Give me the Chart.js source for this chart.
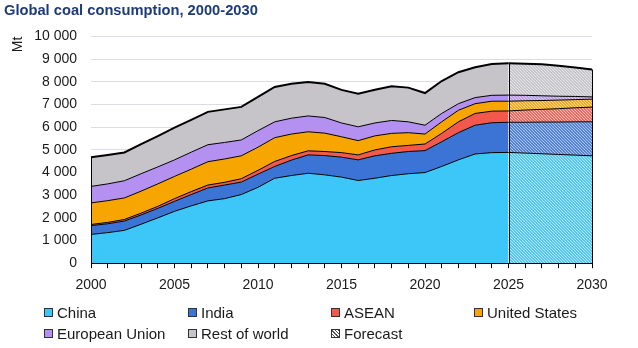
<!DOCTYPE html>
<html lang="en">
<head>
    <meta charset="UTF-8">
    <title>Global coal consumption, 2000-2030</title>
    <script src="https://cdn.jsdelivr.net/npm/chart.js"></script>
    <style>
        body { margin: 0; background: #fff; font-family: "Liberation Sans", Arial, sans-serif; }
        #wrap { position: relative; width: 638px; height: 348px; }
        #legend { position: absolute; left: 0; top: 303px; width: 638px; }
        .item { position: absolute; font-size: 15px; color: #1a1a1a; white-space: nowrap; line-height: 20px; }
        .box { display: inline-block; width: 7px; height: 7px; border: 1px solid #333; margin-right: 4px; vertical-align: 1px; }
    </style>
</head>
<body>
<div id="wrap">
    <canvas id="chart" width="638" height="348"></canvas>
    <div id="legend"></div>
</div>

<script>
    // Mt; 2025 onward is forecast
    const years = [];
    for (let y = 2000; y <= 2030; y++) years.push(String(y));
    const tickYears = ["2000", "2005", "2010", "2015", "2020", "2025", "2030"];
    const forecastFrom = "2025";

    const seriesNames = ["China", "India", "ASEAN", "United States", "European Union", "Rest of world"];
    const seriesColors = ["#3dc6f8", "#3b74d4", "#f2584b", "#f7a500", "#b491f0", "#c6c4c9"];

    const china  = [1270,1350,1450,1720,2000,2290,2530,2750,2850,3030,3350,3750,3870,3970,3900,3800,3650,3750,3870,3950,4000,4270,4560,4820,4880,4890,4860,4830,4800,4770,4740];
    const india  = [390,390,410,410,420,440,500,570,600,550,580,520,680,810,850,880,910,990,980,980,970,1090,1200,1270,1320,1330,1360,1400,1430,1470,1500];
    const asean  = [50,60,70,80,90,120,130,130,120,150,170,220,200,180,180,200,220,260,290,270,290,370,480,520,510,500,540,560,590,620,650];
    const us     = [950,960,950,970,990,980,990,1030,1030,1010,1020,1050,950,840,810,700,630,620,590,560,440,510,510,430,440,430,410,390,380,360,350];
    const eu     = [730,740,760,770,750,730,750,750,730,700,730,700,700,700,690,610,610,570,570,480,390,370,290,270,260,270,240,210,170,140,100];
    const rest   = [1290,1280,1250,1310,1360,1420,1430,1450,1460,1460,1490,1540,1520,1500,1490,1460,1460,1470,1510,1510,1420,1430,1390,1340,1380,1410,1390,1390,1350,1280,1210];

    const seriesData = [china, india, asean, us, eu, rest];
    const fcIdx = years.indexOf(forecastFrom);

    // diagonal hatch used for the forecast part
    function hatch(color) {
        let c = document.createElement("canvas");
        c.width = 6; c.height = 6;
        let g = c.getContext("2d");
        g.fillStyle = color;
        g.fillRect(0, 0, 6, 6);
        g.strokeStyle = "rgba(255,255,255,0.6)";
        g.lineWidth = 1.1;
        g.beginPath();
        for (let k = -6; k <= 6; k += 3) { g.moveTo(k, 0); g.lineTo(k + 6, 6); }
        g.stroke();
        g.strokeStyle = "rgba(0,0,0,0.12)";
        g.lineWidth = 0.6;
        g.beginPath();
        for (let k = -7.5; k <= 6; k += 3) { g.moveTo(k, 0); g.lineTo(k + 6, 6); }
        g.stroke();
        return g.createPattern(c, "repeat");
    }

    const datasets = seriesNames.map((name, i) => {
        let pat = hatch(seriesColors[i]);
        return {
            label: name,
            data: seriesData[i],
            backgroundColor: seriesColors[i],
            borderColor: "#000",
            borderWidth: i === seriesNames.length - 1 ? 2 : 1,
            pointRadius: 0,
            tension: 0,
            fill: i === 0 ? "origin" : "-1",
            segment: {
                backgroundColor: ctx => ctx.p0DataIndex >= fcIdx ? pat : undefined
            }
        };
    });

    // vertical edges at start, forecast start and end
    const edgeLines = {
        id: "edgeLines",
        afterDatasetsDraw(chart) {
            let x = chart.scales.x, y = chart.scales.y, ctx = chart.ctx;
            ctx.save();
            ctx.strokeStyle = "#000";
            ctx.lineWidth = 1;
            [0, fcIdx, years.length - 1].forEach(idx => {
                let total = seriesData.reduce((s, arr) => s + arr[idx], 0);
                let px = Math.round(x.getPixelForValue(idx)) + 0.5;
                ctx.beginPath();
                ctx.moveTo(px, y.getPixelForValue(0));
                ctx.lineTo(px, y.getPixelForValue(total));
                ctx.stroke();
            });
            ctx.restore();
        }
    };

    const font = "'Liberation Sans', Arial, sans-serif";

    new Chart(document.getElementById("chart"), {
        type: "line",
        data: { labels: years, datasets: datasets },
        options: {
            responsive: false,
            animation: false,
            layout: { padding: { left: 4, right: 46, top: 0, bottom: 45 } },
            plugins: {
                legend: { display: false },
                tooltip: { enabled: false },
                title: {
                    display: true,
                    text: "Global coal consumption, 2000-2030",
                    align: "start",
                    color: "#1c3b78",
                    font: { family: font, size: 14.7, weight: "bold" },
                    padding: { top: 2, bottom: 17 }
                }
            },
            scales: {
                x: {
                    offset: false,
                    grid: { drawOnChartArea: false, drawTicks: true, tickLength: 5, color: "#000" },
                    border: { display: true, color: "#000", width: 1 },
                    ticks: {
                        autoSkip: false,
                        maxRotation: 0,
                        padding: 9,
                        color: "#1a1a1a",
                        font: { family: font, size: 14 },
                        callback: (v, i) => tickYears.includes(years[i]) ? years[i] : ""
                    }
                },
                y: {
                    stacked: true,
                    min: 0,
                    max: 10000,
                    afterFit: s => { s.width = 87; },
                    grid: { drawTicks: false, color: "#dcdbe8" },
                    border: { display: false },
                    title: {
                        display: true,
                        text: "Mt",
                        align: "end",
                        color: "#1a1a1a",
                        font: { family: font, size: 14 },
                        padding: { top: 6, bottom: 0 }
                    },
                    ticks: {
                        stepSize: 1000,
                        padding: 14,
                        color: "#1a1a1a",
                        font: { family: font, size: 14 },
                        callback: v => String(v).replace(/\B(?=(\d{3})+(?!\d))/g, " ")
                    }
                }
            }
        },
        plugins: [edgeLines]
    });

    // legend laid out as the 4-column grid of the original
    const legendItems = seriesNames.map((n, i) => ({ name: n, color: seriesColors[i] }));
    legendItems.push({ name: "Forecast", color: null });
    const colX = [44, 188, 331, 474];
    let legend = document.getElementById("legend");
    legendItems.forEach((it, i) => {
        let d = document.createElement("div");
        d.className = "item";
        d.style.left = colX[i % 4] + "px";
        d.style.top = (Math.floor(i / 4) * 21) + "px";
        let bg = it.color ? it.color : "repeating-linear-gradient(45deg, #fff 0 1.5px, #555 1.5px 2.5px)";
        d.innerHTML = '<span class="box" style="background:' + bg + '"></span>' + it.name;
        legend.appendChild(d);
    });
</script>
</body>
</html>
